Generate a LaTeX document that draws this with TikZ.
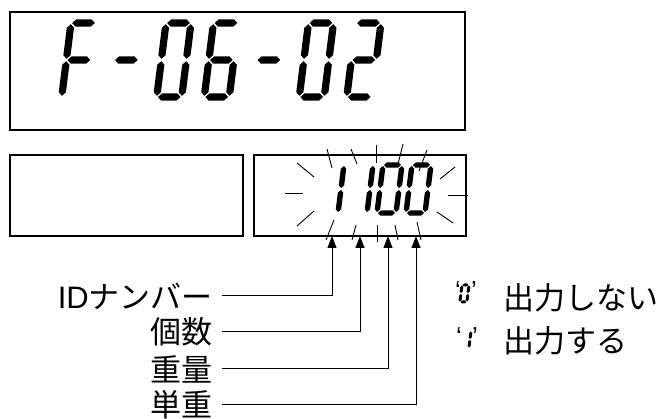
\documentclass[tikz,border=0pt]{standalone}
\usepackage{fontspec}
\setmainfont{Liberation Sans}
\newfontfamily\jpfont{Noto Sans CJK JP}
\usetikzlibrary{positioning, arrows.meta}
\tikzset{
  panel/.style={draw, line width=1.3pt},
  ray/.style={line width=0.9pt},
  lbl/.style={anchor=east, inner sep=0pt, font=\fontsize{31}{31}\selectfont},
  note/.style={anchor=west, inner sep=0pt, font=\fontsize{31}{31}\selectfont\jpfont},
  quot/.style={inner sep=0pt, font=\fontsize{26}{26}\selectfont},
  lead/.style={line width=1pt, -{Triangle[length=12pt,width=9pt]}}
}
% one bevelled segment: \hseg{x1}{x2}{y}, \vseg{x}{y1}{y2}
\newcommand{\hseg}[3]{\fill ({#1},{#3}) -- ({#1+\digt},{#3-\digt}) -- ({#2-\digt},{#3-\digt}) -- ({#2},{#3}) -- ({#2-\digt},{#3+\digt}) -- ({#1+\digt},{#3+\digt}) -- cycle;}
\newcommand{\vseg}[3]{\fill ({#1},{#2}) -- ({#1+\digt},{#2+\digt}) -- ({#1+\digt},{#3-\digt}) -- ({#1},{#3}) -- ({#1-\digt},{#3-\digt}) -- ({#1-\digt},{#2+\digt}) -- cycle;}
\newcommand{\lsega}{\hseg{\digg}{\digw-\digg}{0}}
\newcommand{\lsegb}{\vseg{\digw}{\digg}{\digh/2-\digg}}
\newcommand{\lsegc}{\vseg{\digw}{\digh/2+\digg}{\digh-\digg}}
\newcommand{\lsegd}{\hseg{\digg}{\digw-\digg}{\digh}}
\newcommand{\lsege}{\vseg{0}{\digh/2+\digg}{\digh-\digg}}
\newcommand{\lsegf}{\vseg{0}{\digg}{\digh/2-\digg}}
\newcommand{\lsegg}{\hseg{\digg}{\digw-\digg}{\digh/2}}
% seven segment digit, top left corner at (#1,#2)
\newcommand{\lcd}[3]{\begin{scope}[shift={(#1,#2)}, xslant=0.125]
  \foreach \s in {#3} {\csname lseg\s\endcsname}
\end{scope}}

\begin{document}
\begin{tikzpicture}[x=1pt, y=-1pt]
\useasboundingbox (0,0) rectangle (659,419);
	\draw [panel] (10,12) rectangle (465,130);
	\draw [panel] (10,155) rectangle (243,236);
	\draw [panel] (254,155) rectangle (466,236);
	% F-06-02
	\def\digw{25}\def\digh{74}\def\digt{3.6}\def\digg{1.2}
	\lcd{71}{23}{a,e,f,g}
	\lcd{118.5}{23}{g}
	\lcd{166}{23}{a,b,c,d,e,f}
	\lcd{213.5}{23}{a,c,d,e,f,g}
	\lcd{261}{23}{g}
	\lcd{308.5}{23}{a,b,c,d,e,f}
	\lcd{356}{23}{a,b,d,e,g}
	% 1100
	\def\digw{19}\def\digh{48}\def\digt{2.7}\def\digg{1}
	\lcd{325}{165}{b,c}
	\lcd{354}{165}{b,c}
	\lcd{383}{165}{a,b,c,d,e,f}
	\lcd{412}{165}{a,b,c,d,e,f}
	\foreach \a/\b in {{(285,193)}/{(303,193)}, {(297,163)}/{(314,177)}, {(297,226)}/{(314,211)},
	  {(327,149)}/{(332,168)}, {(351,149)}/{(357,164)}, {(376,145)}/{(376,163)},
	  {(403,144)}/{(398,164)}, {(427,150)}/{(419,171)}, {(440,179)}/{(455,167)},
	  {(448,195)}/{(468,195)}, {(437,212)}/{(453,223)}, {(334,220)}/{(326,240)},
	  {(356,225)}/{(352,240)}, {(377,225)}/{(377,242)}, {(395,225)}/{(398,240)},
	  {(417,222)}/{(421,240)}}
	  \draw [ray] \a -- \b;
	% labels and leaders
	\coordinate (t1) at (332,236);
	\coordinate (t2) at (360,236);
	\coordinate (t3) at (388,236);
	\coordinate (t4) at (416,236);
	\node [lbl] (idno) at (213,296) {ID{\jpfont ナンバー}};
	\node [lbl, font=\fontsize{31}{31}\selectfont\jpfont] (count) at (213,332) {個数};
	\node [lbl, font=\fontsize{31}{31}\selectfont\jpfont] (weight) at (213,369) {重量};
	\node [lbl, font=\fontsize{31}{31}\selectfont\jpfont] (unitw) at (213,405) {単重};
	\draw [lead] ([xshift=9pt]idno.east) -| (t1);
	\draw [lead] ([xshift=9pt]count.east) -| (t2);
	\draw [lead] ([xshift=9pt]weight.east) -| (t3);
	\draw [lead] ([xshift=9pt]unitw.east) -| (t4);
	% '0' / '1'
	\def\digw{7}\def\digh{17}\def\digt{1.5}\def\digg{0.5}
	\lcd{462}{285}{a,b,c,d,e,f}
	\lcd{464}{331}{b,c}
	\node [quot] (q0l) at (458,291) {‘};
	\node [quot] (q0r) at (474,291) {’};
	\node [quot] (q1l) at (459,337) {‘};
	\node [quot] (q1r) at (475,337) {’};
	\node [note] (off) at (503,298) {出力しない};
	\node [note] (on) at (503,341) {出力する};
\end{tikzpicture}
\end{document}
